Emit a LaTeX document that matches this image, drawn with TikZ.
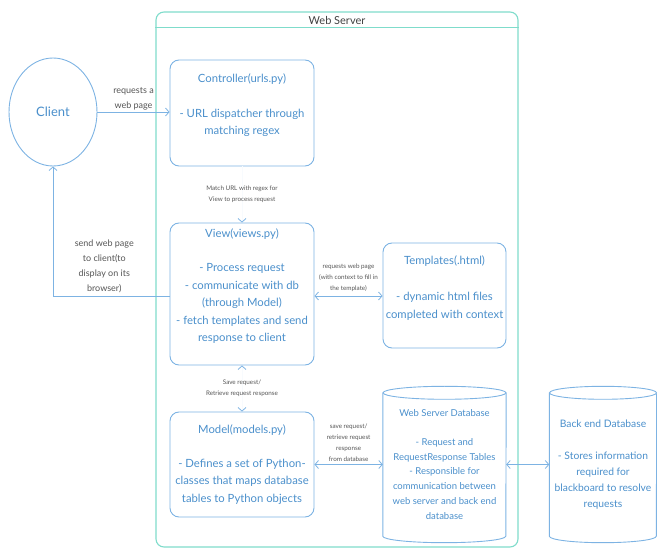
\documentclass[tikz,border=0pt]{standalone}
\usepackage{fontspec}
\setmainfont{Lato}
\usetikzlibrary{positioning,arrows.meta,shapes.geometric}
\definecolor{boxline}{HTML}{7DB3E3}
\definecolor{boxtext}{HTML}{4A8FCB}
\definecolor{frameline}{HTML}{7FDCCB}
\definecolor{notegray}{HTML}{555555}

\begin{document}
\begin{tikzpicture}[x=1pt, y=-1pt,
  comp/.style={draw=boxline, rounded corners=9pt, line width=0.9pt, text=boxtext,
    align=center, inner xsep=1pt, font=\fontsize{11.3}{17.5}\selectfont},
  dbbox/.style={text=boxtext, align=center, inner sep=1pt},
  note/.style={text=notegray, align=center, inner sep=1pt, font=\fontsize{9}{15}\selectfont},
  tinynote/.style={text=notegray, align=center, inner sep=1pt, font=\fontsize{6.3}{11}\selectfont},
  flow/.style={draw=boxline, line width=0.8pt, -{Straight Barb[length=3.5pt,width=8pt]}},
  twoway/.style={draw=boxline, line width=0.8pt,
    {Straight Barb[length=3.5pt,width=8pt]}-{Straight Barb[length=3.5pt,width=8pt]}},
  faint/.style={draw=boxline!5, line width=0.8pt,
    -{Straight Barb[length=3.5pt,width=8pt,color=boxline]}},
  faintboth/.style={draw=boxline!5, line width=0.8pt,
    {Straight Barb[length=3.5pt,width=8pt,color=boxline]}-{Straight Barb[length=3.5pt,width=8pt,color=boxline]}},
]
  \useasboundingbox (0,0) rectangle (657,548);
  % Web server frame with header bar
  \node[draw=frameline, line width=1.1pt, rounded corners=8pt,
    minimum width=362, minimum height=535] (srv) at (337,279.5) {};
  \draw[frameline, line width=1.1pt] ([yshift=-16pt]srv.north west) -- ([yshift=-16pt]srv.north east);
  \node[text=black!75, font=\fontsize{11}{13}\selectfont] (srvtitle) at (337,20) {Web Server};

  % Client
  \node[draw=boxline, ellipse, line width=0.9pt, minimum width=88, minimum height=108,
    text=boxtext, font=\fontsize{13}{15}\selectfont] (client) at (53,112) {Client};

  % Components inside the web server
  \node[comp, minimum width=144, minimum height=106] (ctrl) at (242,113)
    {Controller(urls.py)\\[17pt]- URL dispatcher through\\matching regex\\ \mbox{}};
  \node[comp, minimum width=144, minimum height=142] (view) at (242,294)
    {View(views.py)\\[17pt]- Process request\\- communicate with db\\(through Model)\\- fetch templates and send\\response to client\\ \mbox{}};
  \node[comp, minimum width=123, minimum height=105] (tmpl) at (444.5,295.5)
    {Templates(.html)\\[19pt]- dynamic html files\\completed with context\\ \mbox{}};
  \node[comp, minimum width=144, minimum height=105] (model) at (242,464.5)
    {Model(models.py)\\[16pt]- Defines a set of Python-\\classes that maps database\\tables to Python objects};

  % Databases (cylinders drawn round the text nodes)
  \node[dbbox, minimum width=123, minimum height=143, font=\fontsize{9.5}{14.8}\selectfont] (wsdb) at (444.5,464.5)
    {Web Server Database\\[14pt]- Request and\\RequestResponse Tables\\- Responsible for\\communication between\\web server and back end\\database};
  \node[dbbox, minimum width=107, minimum height=143, font=\fontsize{10.3}{16}\selectfont] (back) at (603,464.5)
    {Back end Database\\[16pt]- Stores information\\required for\\blackboard to resolve\\requests};
  \foreach \db/\rx in {wsdb/61.5pt, back/53.5pt} {
    \draw[boxline, line width=0.9pt] (\db.north west) -- (\db.south west)
      arc[start angle=180, end angle=360, x radius=\rx, y radius=6.5pt] -- (\db.north east);
    \draw[boxline, line width=0.9pt] (\db.north) ellipse [x radius=\rx, y radius=6.5pt];
  }

  % Connectors
  \draw[flow] (client.east) -- node[note, above] (reqlbl) {requests a\\web page} (client.east -| ctrl.west);
  \draw[faint] (ctrl.south) -- node[tinynote] (matchlbl)
    {Match URL with regex for\\View to process request} (view.north);
  \draw[flow] ([yshift=-2pt]view.west) -| node[note, above=2pt, pos=0.28] (sendlbl)
    {send web page\\to client(to\\display on its\\browser)} (client.south);
  \draw[twoway] ([yshift=-2pt]view.east) -- node[tinynote, above=3pt] (tmpllbl)
    {requests web page\\(with context to fill in\\the template)} ([yshift=-0.5pt]tmpl.west);
  \draw[faintboth] (view.south) -- node[tinynote] (savelbl)
    {Save request/\\Retrieve request response} (model.north);
  \draw[twoway] (model.east) -- node[tinynote, above=2pt] (dblbl)
    {save request/\\retrieve request\\response\\from database} (wsdb.west);
  \draw[twoway] (wsdb.east) -- (back.west);
\end{tikzpicture}
\end{document}
